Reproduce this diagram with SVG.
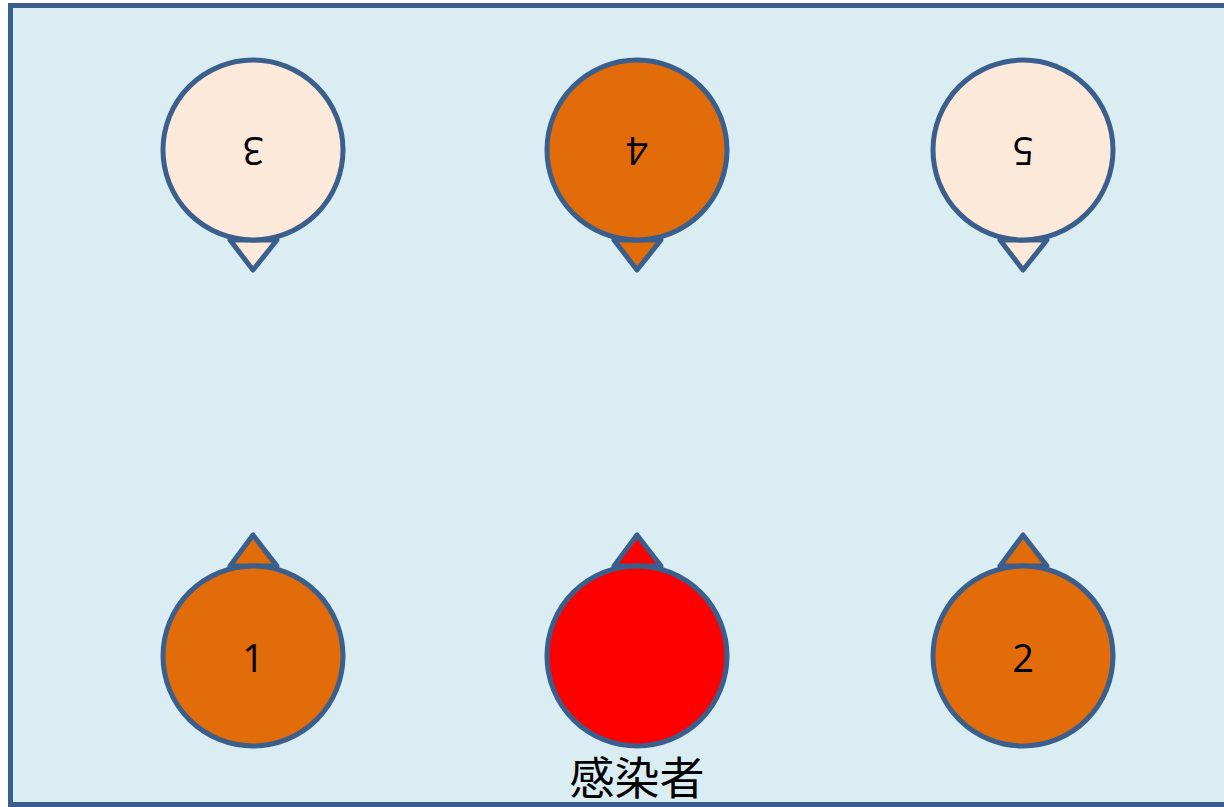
<svg xmlns="http://www.w3.org/2000/svg" width="1224" height="807" viewBox="0 0 1224 807">
  <style>
    .frame { fill: #DAEDF3; stroke: #3A5F8C; stroke-width: 5; }
    .node { stroke: #3A5F8C; stroke-width: 5; stroke-linejoin: round; }
    .orange { fill: #E36C0A; }
    .pale { fill: #FDE9D9; }
    .red { fill: #FF0000; }
    .num { font-family: "Open Sans", "Liberation Sans", sans-serif; font-size: 38px; fill: #000; text-anchor: middle; }
    .cap { font-family: "Noto Sans CJK JP", sans-serif; font-size: 45px; fill: #000; text-anchor: middle; }
  </style>
  <rect class="frame" x="10.5" y="5.5" width="1230" height="799"/>

  <g id="seat-3">
    <polygon class="node pale" points="230,240 277,240 253,270"/>
    <circle class="node pale" cx="253" cy="150" r="90"/>
    <text class="num" transform="rotate(180 253 150)" x="253" y="163">3</text>
  </g>
  <g id="seat-4">
    <polygon class="node orange" points="614,240 661,240 637,270"/>
    <circle class="node orange" cx="637" cy="150" r="90"/>
    <text class="num" transform="rotate(180 637 150)" x="637" y="163">4</text>
  </g>
  <g id="seat-5">
    <polygon class="node pale" points="1000,240 1047,240 1023,270"/>
    <circle class="node pale" cx="1023" cy="150" r="90"/>
    <text class="num" transform="rotate(180 1023 150)" x="1023" y="163">5</text>
  </g>

  <g id="seat-1">
    <polygon class="node orange" points="230,566 277,566 253,535"/>
    <circle class="node orange" cx="253" cy="656" r="90"/>
    <text class="num" x="253" y="672">1</text>
  </g>
  <g id="infected">
    <polygon class="node red" points="614,566 661,566 637,535"/>
    <circle class="node red" cx="637" cy="656" r="90"/>
    <text class="cap" x="637" y="795">感染者</text>
  </g>
  <g id="seat-2">
    <polygon class="node orange" points="1000,566 1047,566 1023,535"/>
    <circle class="node orange" cx="1023" cy="656" r="90"/>
    <text class="num" x="1023" y="672">2</text>
  </g>

  <g id="connectors"></g>
</svg>
